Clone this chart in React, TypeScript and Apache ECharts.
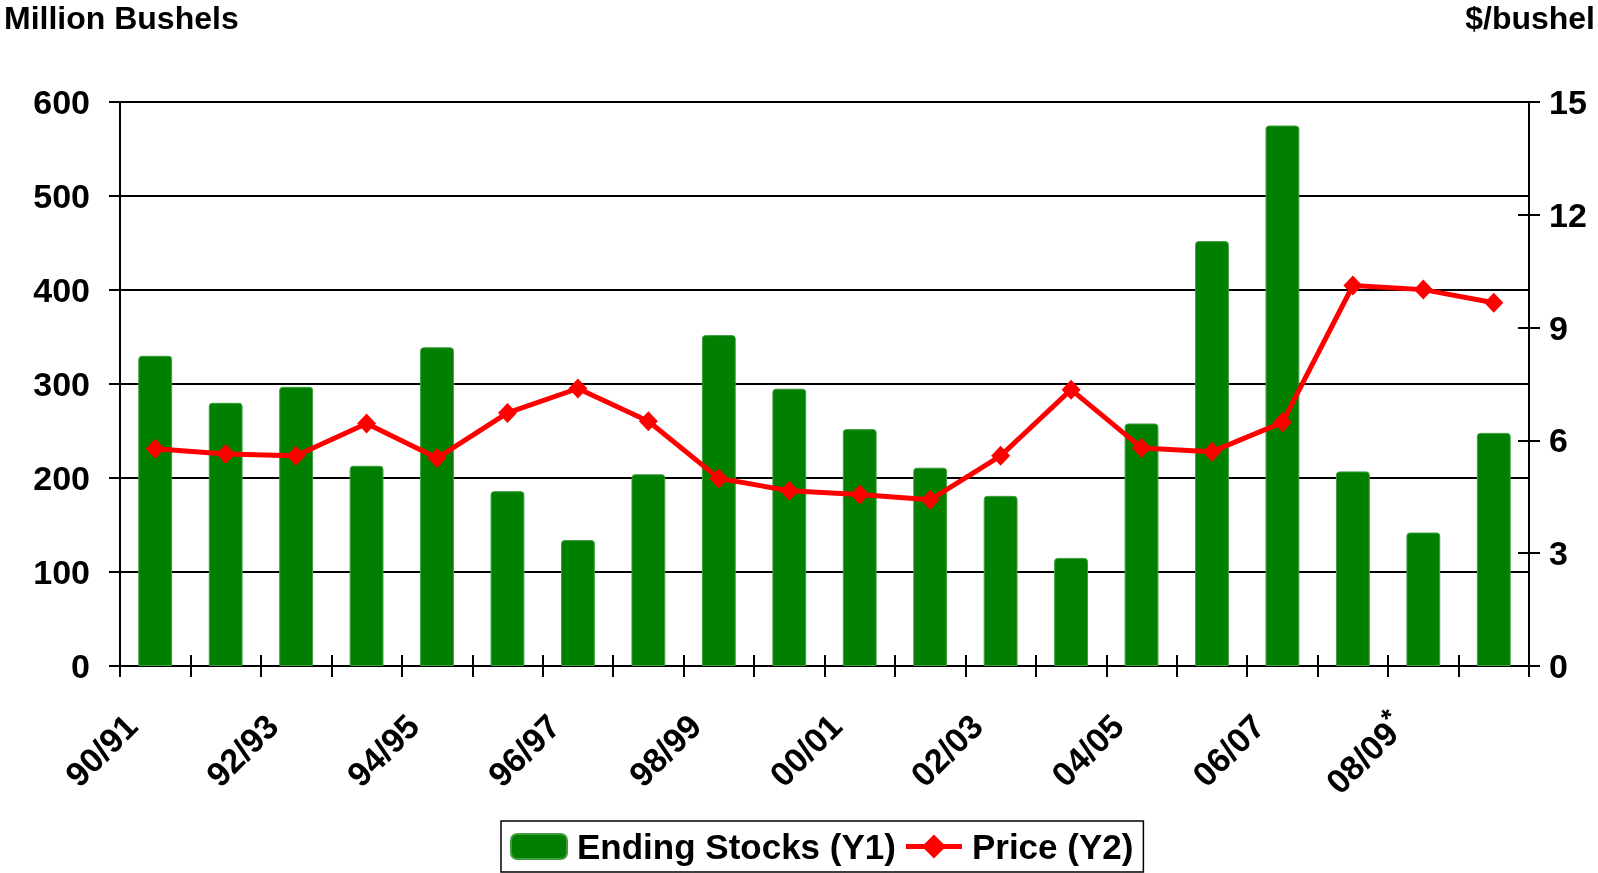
import React, { useEffect, useRef } from "react";
import * as echarts from "echarts";

const categories = [
  "90/91", "91/92", "92/93", "93/94", "94/95", "95/96", "96/97", "97/98", "98/99", "99/00",
  "00/01", "01/02", "02/03", "03/04", "04/05", "05/06", "06/07", "07/08", "08/09*", "09/10",
];
const endingStocks = [330, 280, 297, 213, 339, 186, 134, 204, 352, 295, 252, 211, 181, 115, 258, 452, 575, 207, 142, 248];
const prices = [5.78, 5.64, 5.59, 6.45, 5.53, 6.73, 7.38, 6.51, 4.99, 4.66, 4.56, 4.42, 5.59, 7.35, 5.8, 5.7, 6.48, 10.12, 10.01, 9.66];
const leftTicks = { min: 0, max: 600, interval: 100 };
const rightTicks = { min: 0, max: 15, interval: 3 };
const leftTitle = "Million Bushels";
const rightTitle = "$/bushel";
const seriesNames = ["Ending Stocks (Y1)", "Price (Y2)"];

const FONT = '"Liberation Sans", Arial, Helvetica, sans-serif';
const LINE_ICON =
  "path://M0,10 L18.5,10 L28,0.5 L37.5,10 L56,10 L56,15 L37.5,15 L28,24.5 L18.5,15 L0,15 Z";

export default function App() {
  const ref = useRef<HTMLDivElement>(null);
  useEffect(() => {
    document.body.style.margin = "0";
    const chart = echarts.init(ref.current!, undefined, { renderer: "svg" });
    const labelStyle = { fontFamily: FONT, fontWeight: "bold" as const, fontSize: 34, color: "#000" };
    chart.setOption({
      animation: false,
      textStyle: { fontFamily: FONT },
      grid: { left: 120, right: 69, top: 102, bottom: 207 },
      graphic: [
        { type: "text", left: 4, top: 2, style: { text: leftTitle, font: `bold 32px ${FONT}`, fill: "#000" } },
        { type: "text", right: 3, top: 2, style: { text: rightTitle, font: `bold 32px ${FONT}`, fill: "#000" } },
      ],
      legend: {
        left: 501,
        top: 821,
        itemWidth: 56,
        itemHeight: 25,
        itemGap: 10,
        padding: [8, 10, 8, 9],
        borderColor: "#000",
        borderWidth: 1.5,
        textStyle: { ...labelStyle, fontSize: 35, padding: [0, 0, 0, 5] },
        data: [
          { name: seriesNames[0], icon: "roundRect" },
          { name: seriesNames[1], icon: LINE_ICON },
        ],
      },
      xAxis: [
        {
          type: "category",
          data: categories,
          axisLine: { lineStyle: { color: "#000", width: 2 } },
          axisTick: { show: true, interval: 0, length: 11, lineStyle: { color: "#000", width: 2 } },
          axisLabel: {
            ...labelStyle,
            interval: 1,
            rotate: 45,
            margin: 30,
            padding: [0, 34, 0, 0],
            formatter: (v: string) => (v.endsWith("*") ? v.slice(0, -1) + "{s|*}" : v),
            rich: { s: { fontFamily: FONT, fontWeight: "bold", fontSize: 27, color: "#000", padding: [0, 0, 18, 0] } },
          },
          splitLine: { show: false },
        },
        {
          type: "category",
          data: categories,
          position: "bottom",
          axisLine: { show: false },
          axisTick: { show: true, inside: true, interval: 0, length: 11, lineStyle: { color: "#000", width: 2 } },
          axisLabel: { show: false },
          splitLine: { show: false },
        },
      ],
      yAxis: [
        {
          type: "value",
          position: "left",
          ...leftTicks,
          axisLine: { show: true, lineStyle: { color: "#000", width: 2 } },
          axisTick: { show: true, length: 11, lineStyle: { color: "#000", width: 2 } },
          axisLabel: { ...labelStyle, margin: 30 },
          splitLine: { show: true, lineStyle: { color: "#000", width: 2 } },
        },
        {
          type: "value",
          position: "right",
          ...rightTicks,
          axisLine: { show: true, lineStyle: { color: "#000", width: 2 } },
          axisTick: { show: true, length: 11, lineStyle: { color: "#000", width: 2 } },
          axisLabel: { ...labelStyle, margin: 20 },
          splitLine: { show: false },
        },
        {
          type: "value",
          position: "right",
          ...rightTicks,
          axisLine: { show: false },
          axisTick: { show: true, inside: true, length: 11, lineStyle: { color: "#000", width: 2 } },
          axisLabel: { show: false },
          splitLine: { show: false },
        },
      ],
      series: [
        {
          name: seriesNames[0],
          type: "bar",
          data: endingStocks,
          barWidth: "48%",
          itemStyle: { color: "#007f00", borderColor: "#3f9f3f", borderWidth: 1, borderRadius: [3, 3, 0, 0] },
        },
        {
          name: seriesNames[1],
          type: "line",
          yAxisIndex: 1,
          data: prices,
          z: 5,
          symbol: "diamond",
          symbolSize: [19, 20],
          lineStyle: { color: "#ff0000", width: 5 },
          itemStyle: { color: "#ff0000" },
        },
      ],
    });
    return () => chart.dispose();
  }, []);
  return <div ref={ref} style={{ position: "fixed", left: 0, top: 0, width: 1598, height: 873 }} />;
}
